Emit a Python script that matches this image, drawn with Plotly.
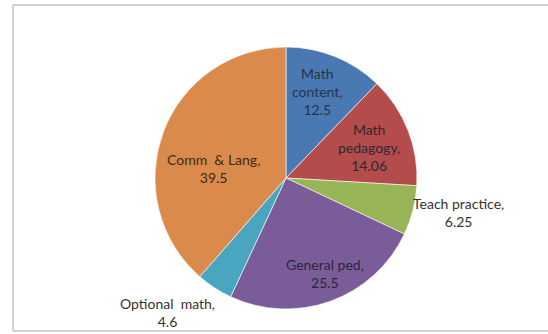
import plotly.graph_objects as go

# Credit share of each component of the programme
categories = ["Math content", "Math pedagogy", "Teach practice",
              "General ped", "Optional math", "Comm & Lang"]
values = [12.5, 14.06, 6.25, 25.5, 4.6, 39.5]
label_lines = [["Math", "content,"], ["Math", "pedagogy,"], ["Teach practice,"],
               ["General ped,"], ["Optional  math,"], ["Comm  & Lang,"]]

colors = ["#4A78B2", "#B34C4A", "#97B457", "#7A5D98", "#4AA6C0", "#DA8A4A"]

W, H = 548, 334
cx, cy, r = 286, 178, 131

# label centres in pixels (x, y from top)
label_pos = [(317, 91), (369, 147), (458, 212), (325, 273), (167, 312), (213, 168)]
label_colors = ["#263449", "#2E2A35", "#333333", "#2A2540", "#333333", "#3A2A20"]

fig = go.Figure()
fig.add_trace(go.Pie(
    labels=categories,
    values=values,
    sort=False,
    direction="clockwise",
    rotation=0,
    textinfo="none",
    hoverinfo="label+value",
    marker=dict(colors=colors, line=dict(color="rgba(255,255,255,0.6)", width=1)),
    domain=dict(x=[(cx - r) / W, (cx + r) / W],
                y=[(H - cy - r) / H, (H - cy + r) / H]),
    showlegend=False,
))

for lines, v, (px, py), col in zip(label_lines, values, label_pos, label_colors):
    text = "<br>".join(lines + [f"{v:g}"])
    fig.add_annotation(
        x=px / W, y=1 - py / H, xref="paper", yref="paper",
        text=text.replace("  ", "&nbsp; "), showarrow=False, align="center",
        xanchor="center", yanchor="middle",
        font=dict(family="Lato, Carlito, sans-serif", size=14, color=col),
    )

# chart area frame
fig.add_shape(type="rect", xref="paper", yref="paper",
              x0=13 / W, x1=1.05, y0=1 - 331 / H, y1=1 - 5 / H,
              line=dict(color="#A6A6A6", width=1), fillcolor="rgba(0,0,0,0)")

fig.update_layout(
    width=W, height=H,
    margin=dict(l=0, r=0, t=0, b=0),
    paper_bgcolor="white",
    plot_bgcolor="white",
)

fig.write_html("out.html")
